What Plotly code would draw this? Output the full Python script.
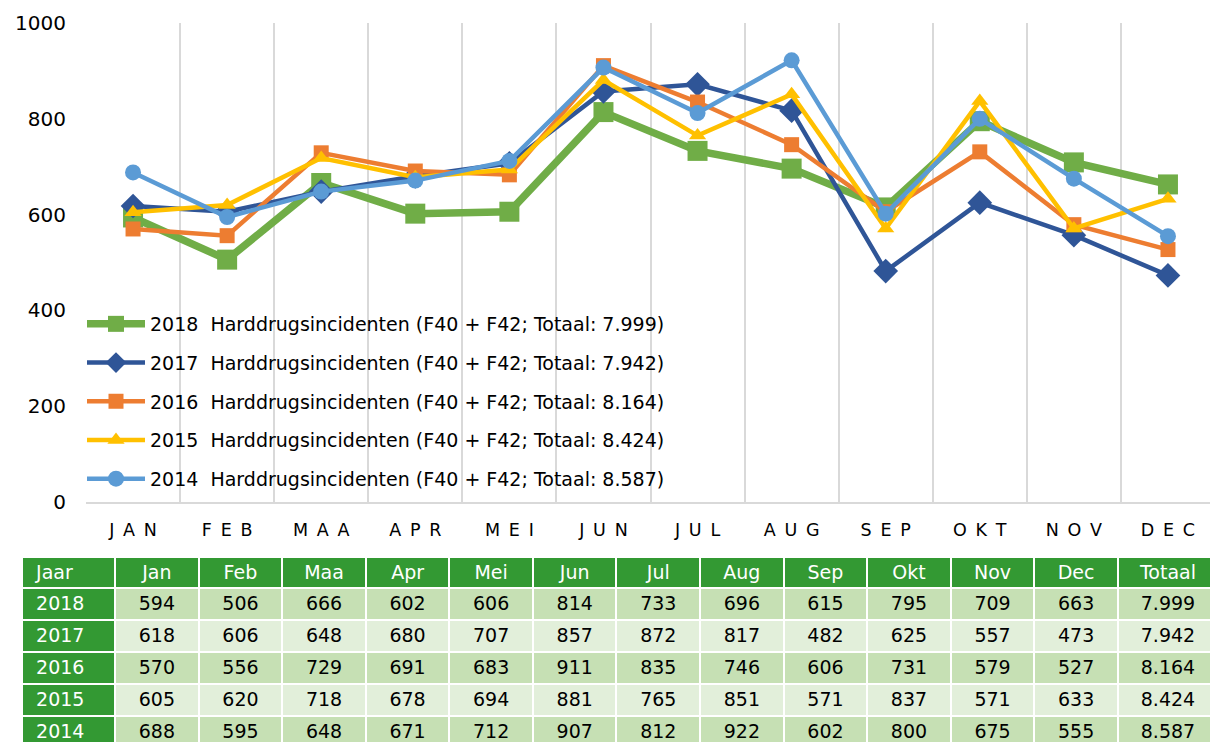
import plotly.graph_objects as go

months = ["Jan", "Feb", "Maa", "Apr", "Mei", "Jun", "Jul", "Aug", "Sep", "Okt", "Nov", "Dec"]
axis_months = ["JAN", "FEB", "MAA", "APR", "MEI", "JUN", "JUL", "AUG", "SEP", "OKT", "NOV", "DEC"]
years = ["2018", "2017", "2016", "2015", "2014"]
totals = ["7.999", "7.942", "8.164", "8.424", "8.587"]

v2018 = [594, 506, 666, 602, 606, 814, 733, 696, 615, 795, 709, 663]
v2017 = [618, 606, 648, 680, 707, 857, 872, 817, 482, 625, 557, 473]
v2016 = [570, 556, 729, 691, 683, 911, 835, 746, 606, 731, 579, 527]
v2015 = [605, 620, 718, 678, 694, 881, 765, 851, 571, 837, 571, 633]
v2014 = [688, 595, 648, 671, 712, 907, 812, 922, 602, 800, 675, 555]
series = [v2018, v2017, v2016, v2015, v2014]

colors = ["#70AD47", "#2F5597", "#ED7D31", "#FFC000", "#5B9BD5"]
symbols = ["square", "diamond", "square", "triangle-up", "circle"]
msizes = [20, 19, 15, 15, 16]
lwidths = [7.5, 4.5, 4.5, 4.5, 4.5]

W, H = 1218, 742
O = 8  # page body margin offset
FONT = "DejaVu Sans"
NB = "\u00a0"
EN = "\u2002"

axis_labels = [EN.join(list(m)) for m in axis_months]


def fx(px):
    return (px - O) / W


def fy(py):
    return (H - (py - O)) / H


fig = go.Figure()
for yr, vals, tot, c, s, ms, lw in zip(years, series, totals, colors, symbols, msizes, lwidths):
    fig.add_trace(go.Scatter(
        x=axis_labels, y=vals, mode="lines+markers",
        name=f"{yr}{NB}{NB}Harddrugsincidenten (F40 + F42; Totaal: {tot})",
        legendgroup=yr,
        line=dict(color=c, width=lw),
        marker=dict(symbol=s, size=ms, color=c),
        xaxis="x", yaxis="y",
    ))

# Table
header = [NB + "Jaar"] + months + ["Totaal"]
cols = [[NB + y for y in years]] + [[str(series[r][m]) for r in range(5)] for m in range(12)] + [totals]
row_fill = ["#C6E0B4", "#E2EFDA", "#C6E0B4", "#E2EFDA", "#C6E0B4"]
fills = [["#339933"] * 5] + [row_fill] * 13
fcolors = [["white"] * 5] + [["black"] * 5] * 13
aligns = ["left"] + ["center"] * 13

fig.add_trace(go.Table(
    domain=dict(x=[fx(22), fx(1218)], y=[0, fy(557)]),
    columnwidth=[93] + [83.5] * 12 + [100],
    header=dict(values=header, fill_color="#339933",
                font=dict(family=FONT, size=19, color="white"),
                line=dict(color="white", width=2), height=31, align=aligns),
    cells=dict(values=cols, fill_color=fills,
               font=dict(family=FONT, size=19, color=fcolors),
               line=dict(color="white", width=2), height=32, align=aligns),
))

fig.update_layout(
    width=W, height=H,
    margin=dict(l=0, r=0, t=0, b=0, autoexpand=False),
    paper_bgcolor="white", plot_bgcolor="white",
    font=dict(family=FONT, size=17, color="#000000"),
    xaxis=dict(domain=[fx(86), fx(1215)], type="category", tickson="boundaries",
               showgrid=True, gridcolor="#D9D9D9", gridwidth=2,
               showline=True, linecolor="#D9D9D9", linewidth=2,
               ticks="", tickfont=dict(size=17.5, family=FONT), ticklabelstandoff=11,
               range=[-0.5, 11.5], zeroline=False, automargin=False),
    yaxis=dict(domain=[fy(502), fy(23)], range=[0, 1000],
               tickvals=[0, 200, 400, 600, 800, 1000], showgrid=False,
               zeroline=False, showline=False, ticks="", automargin=False,
               tickfont=dict(size=20, family=FONT), ticklabelstandoff=19),
    legend=dict(x=fx(82), y=fy(305), xanchor="left", yanchor="top",
                bgcolor="rgba(0,0,0,0)", font=dict(size=19, family=FONT),
                tracegroupgap=11, itemwidth=58, traceorder="grouped"),
    showlegend=True,
)

fig.write_html("out.html")
